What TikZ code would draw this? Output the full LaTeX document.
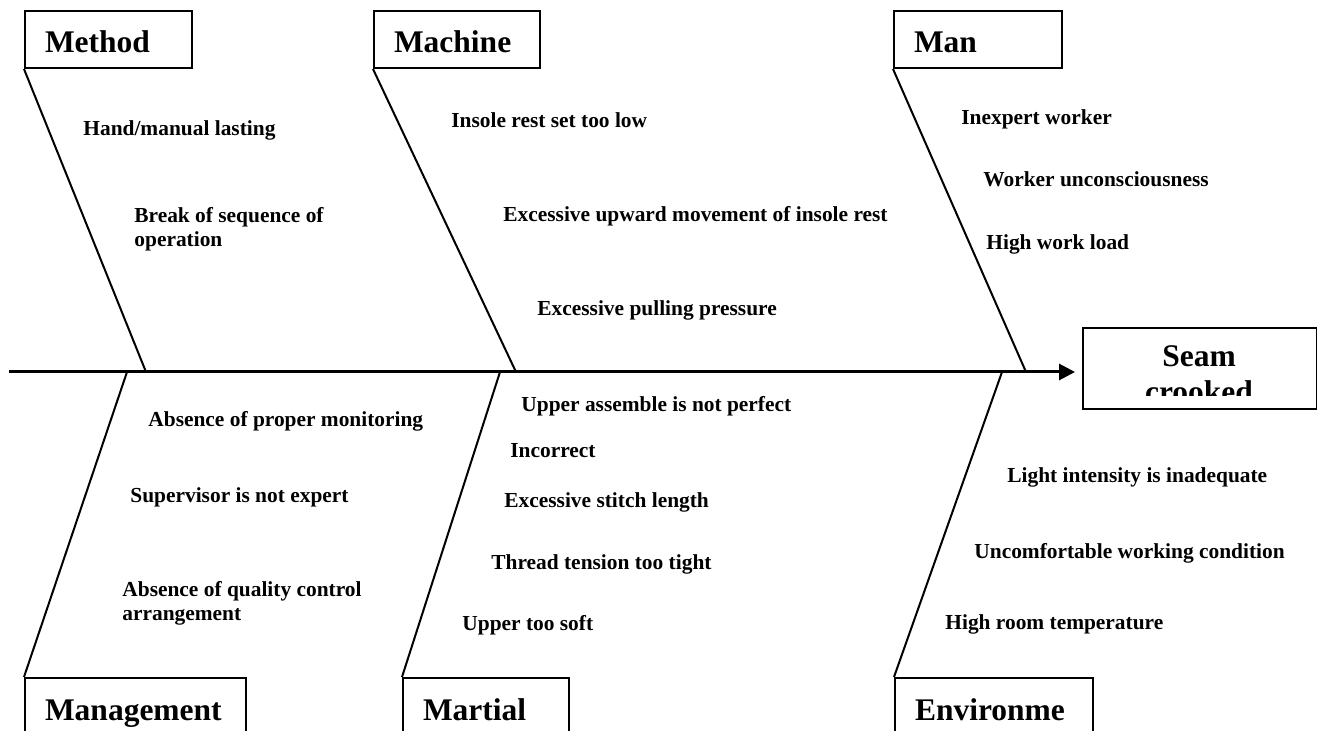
\documentclass[tikz,border=0pt]{standalone}
\usepackage{fontspec}
\setmainfont{Liberation Serif}
\usepackage{tikz}
\usetikzlibrary{arrows.meta}
\newcommand{\headfont}{\fontsize{15.75}{18}\selectfont\bfseries}
\newcommand{\causefont}{\fontsize{10.7}{12}\selectfont\bfseries}

\begin{document}
\begin{tikzpicture}[x=0.5pt, y=-0.5pt,
            catbox/.style={draw, line width=1pt, anchor=north west, font=\headfont,
                align=left, text width=#1, inner xsep=10pt, inner ysep=0pt,
                minimum height=28.5pt, text height=13.5pt, text depth=0pt},
            bone/.style={line width=1pt},
            cause/.style={font=\causefont, anchor=base west, align=left, inner sep=0pt}]
            \useasboundingbox (0,0) rectangle (1317,731);

            % head and spine
            \coordinate (tail) at (9,372);
            \node (effect) [draw, line width=1pt, anchor=north west, inner sep=0pt,
                minimum width=117pt, minimum height=40.5pt] at (1082,327) {};
            \begin{scope}
                \clip (1082,327) rectangle (1316,396);
                \node (efftext) [font=\headfont, align=center, anchor=base] at (1199,403) {Seam\\crooked};
            \end{scope}
            \draw[line width=1.5pt, -{Triangle[length=8pt,width=8pt]}, shorten >=3.5pt]
                (tail) -- (tail -| effect.west);

            % categories
            \node (method)  [catbox=63.5pt] at (24,10)   {Method};
            \node (machine) [catbox=63pt]   at (373,10)  {Machine};
            \node (man)     [catbox=64pt]   at (893,10)  {Man};
            \node (mgmt)    [catbox=90.5pt] at (24,677)  {Management};
            \node (martial) [catbox=63pt]   at (402,677) {Martial};
            \node (env)     [catbox=79pt]   at (894,677) {Environme};

            % bones
            \foreach \cat/\x in {method/146, machine/516, man/1026} {
                \coordinate (j\cat) at (\x,372);
                \draw[bone] (\cat.south west) -- (j\cat);
            }
            \foreach \cat/\x in {mgmt/127, martial/500, env/1002} {
                \coordinate (j\cat) at (\x,372);
                \draw[bone] (\cat.north west) -- (j\cat);
            }

            % causes
            \node (hand)     [cause] at (83,136)   {Hand/manual lasting};
            \node (sequence) [cause] at (134,247)  {Break of sequence of\\operation};
            \node (insole)   [cause] at (451,128)  {Insole rest set too low};
            \node (upward)   [cause] at (503,222)  {Excessive upward movement of insole rest};
            \node (pulling)  [cause] at (537,316)  {Excessive pulling pressure};
            \node (inexpert) [cause] at (961,125)  {Inexpert worker};
            \node (unconsc)  [cause] at (983,187)  {Worker unconsciousness};
            \node (workload) [cause] at (986,250)  {High work load};
            \node (monitor)  [cause] at (148,427)  {Absence of proper monitoring};
            \node (superv)   [cause] at (130,503)  {Supervisor is not expert};
            \node (quality)  [cause] at (122,620)  {Absence of quality control\\arrangement};
            \node (assemble) [cause] at (521,412)  {Upper assemble is not perfect};
            \node (incorr)   [cause] at (510,458)  {Incorrect};
            \node (stitch)   [cause] at (504,508)  {Excessive stitch length};
            \node (thread)   [cause] at (491,570)  {Thread tension too tight};
            \node (soft)     [cause] at (462,631)  {Upper too soft};
            \node (light)    [cause] at (1007,483) {Light intensity is inadequate};
            \node (uncomf)   [cause] at (974,559)  {Uncomfortable working condition};
            \node (roomtemp) [cause] at (945,630)  {High room temperature};

        \end{tikzpicture}
\end{document}
